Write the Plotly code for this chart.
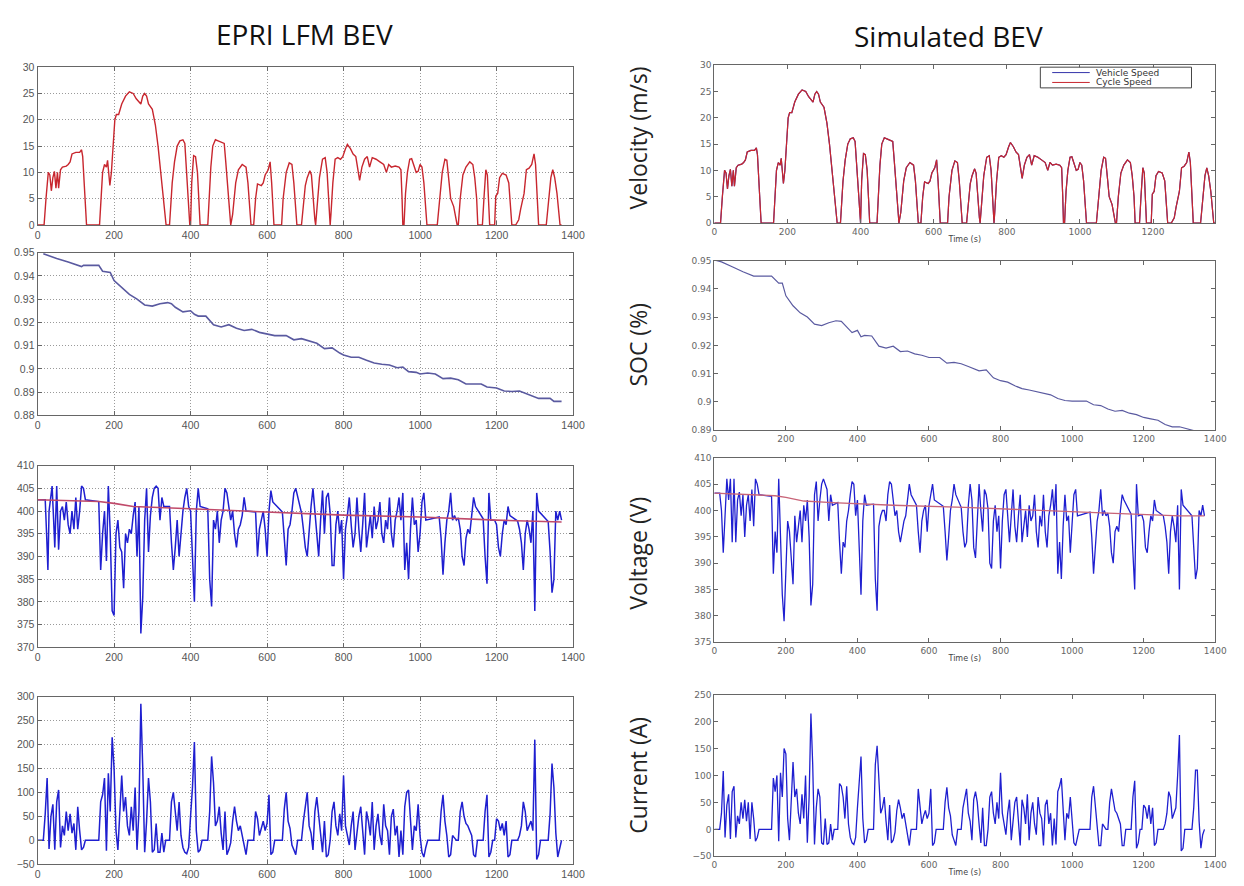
import plotly.graph_objects as go

# ---------------- data ----------------
speed_cycle = [(0,0),(17,0),(22,5),(25,7.5),(28,10),(32,9.5),(36,6.5),(40,9),(44,10.2),(48,7),(52,10),(55,7),
    (60,10.5),(65,11),(75,11.2),(80,11.5),(85,12),(90,13.5),(100,13.8),(110,13.8),(115,14.3),(118,13),(122,8),
    (126,3),(128,0),(162,0),(166,6),(170,10),(175,11.5),(180,11),(183,12.3),(186,10),(189,7.5),(193,10),(197,15),
    (202,20),(206,21),(212,21),(220,23),(230,24.5),(240,25.3),(250,25),(258,24),(265,23.5),(270,23),(275,24.5),
    (280,25),(285,24.5),(290,23),(300,22),(308,19),(315,15),(322,10),(328,5),(333,1),(336,0),(345,0),(347,3),
    (352,8),(358,12),(365,15),(372,16),(380,16.2),(385,15.5),(390,10),(395,4),(398,0),(400,0),(403,8),(408,13.2),
    (413,13),(418,10),(423,3),(425,0),(445,0),(448,5),(453,11),(458,15),(465,16.2),(472,16),(480,15.8),(488,15.5),
    (492,12),(498,6),(503,1),(505,0),(510,2),(518,8),(525,10.5),(535,11.5),(545,11),(550,8),(555,3),(558,0),
    (565,0),(570,5),(575,7.8),(585,7.5),(590,8),(595,9.5),(603,10.5),(608,12),(612,8),(616,2),(618,0),(638,0),
    (642,5),(650,10),(658,11.8),(665,11.5),(670,8),(675,3),(678,0),(690,0),(695,4),(700,7.5),(705,9),(712,10.3),
    (716,9.5),(720,5),(725,1),(727,0),(730,3),(737,9),(745,12.5),(752,12.8),(757,10),(762,3),(765,0),(767,2),
    (772,8),(778,12.5),(785,12.8),(792,12.5),(798,13),(805,14.5),(810,15.3),(818,14.5),(825,13.5),(832,13),
    (838,10),(842,8.5),(848,11),(855,12.5),(862,13),(868,11),(875,12.8),(885,12.5),(895,12),(905,11.5),(912,10),
    (918,11.5),(925,11),(935,11.2),(945,11),(950,10.5),(953,5),(955,0),(958,0),(962,6),(967,10),(973,12.5),
    (978,12.6),(985,11),(990,10),(995,10.2),(1000,11.5),(1005,11),(1010,8),(1015,3),(1018,0),(1045,0),(1050,4),
    (1058,10),(1065,12.5),(1070,12.3),(1076,8),(1080,5),(1088,3.5),(1094,1),(1097,0),(1100,0),(1105,5),(1112,9.5),
    (1120,11),(1130,12),(1138,11.5),(1143,9),(1148,5),(1151,0),(1163,0),(1167,5),(1172,10.5),(1176,9.5),(1180,3),
    (1182,0),(1195,0),(1198,5.5),(1203,6),(1208,9),(1215,9.8),(1225,9.5),(1232,8),(1237,3),(1240,0),(1250,0),
    (1258,1),(1263,3),(1268,4.5),(1272,6),(1278,10.5),(1285,10.8),(1292,11.5),(1298,13.5),(1302,11.5),(1306,5),
    (1310,0),(1330,0),(1336,5),(1342,9),(1347,10.5),(1352,9),(1358,6),(1363,2),(1366,0),(1370,0)]

soc_epri = [(15,0.9495),(30,0.9485),(50,0.9475),(80,0.946),(100,0.9447),(115,0.944),(120,0.9445),(160,0.9445),
    (170,0.942),(190,0.9415),(200,0.938),(220,0.935),(240,0.932),(260,0.930),(280,0.9275),(300,0.927),(320,0.928),
    (340,0.9285),(350,0.928),(360,0.9265),(380,0.9245),(400,0.925),(410,0.9235),(420,0.9227),(440,0.9227),
    (460,0.919),(480,0.918),(500,0.919),(520,0.9175),(540,0.9165),(560,0.917),(580,0.9157),(600,0.915),
    (620,0.9143),(650,0.9143),(670,0.9125),(690,0.913),(710,0.912),(730,0.911),(750,0.9087),(770,0.909),
    (790,0.9068),(800,0.906),(820,0.905),(840,0.905),(860,0.9037),(880,0.9025),(900,0.902),(920,0.9017),
    (940,0.9005),(955,0.9008),(970,0.8988),(990,0.8985),(1000,0.8978),(1020,0.8982),(1040,0.8978),(1060,0.8958),
    (1080,0.896),(1100,0.8953),(1120,0.8935),(1160,0.8935),(1175,0.8922),(1200,0.8918),(1220,0.8905),
    (1240,0.8903),(1260,0.8905),(1280,0.8893),(1300,0.8882),(1310,0.8873),(1340,0.8873),(1350,0.886),(1370,0.886)]

soc_sim = [(0,0.9502),(20,0.9495),(50,0.9478),(80,0.946),(110,0.9445),(160,0.9445),(180,0.942),(190,0.942),
    (200,0.9375),(220,0.934),(240,0.9315),(260,0.930),(280,0.9275),(300,0.927),(320,0.928),(340,0.9287),
    (355,0.9285),(370,0.9265),(385,0.9245),(400,0.9253),(410,0.923),(420,0.9235),(440,0.9233),(460,0.9197),
    (480,0.919),(500,0.9197),(520,0.9178),(540,0.918),(560,0.917),(580,0.9165),(600,0.9157),(630,0.9157),
    (650,0.9137),(670,0.914),(690,0.9135),(710,0.9125),(740,0.911),(760,0.9113),(780,0.9085),(800,0.9075),
    (820,0.907),(840,0.9057),(860,0.9047),(880,0.9042),(900,0.9037),(920,0.9032),(940,0.9025),(960,0.9012),
    (980,0.9005),(1000,0.9003),(1040,0.9003),(1060,0.899),(1080,0.8987),(1100,0.8975),(1120,0.8967),
    (1140,0.897),(1160,0.896),(1180,0.8955),(1200,0.8945),(1220,0.894),(1240,0.8935),(1260,0.892),
    (1280,0.8912),(1300,0.8912),(1320,0.8905),(1345,0.8897),(1360,0.8895)]

volt_epri = [(0,402.5),(20,402.5),(24,394),(27,387),(30,400),(34,403),(38,405.5),(42,398),(45,392),(50,405.5),
    (55,391.5),(60,400),(65,401),(70,398),(75,402),(80,397),(85,395),(90,400),(95,396),(100,403),(105,396),
    (110,400),(115,405.5),(120,405),(125,402.5),(160,402.1),(165,387),(170,395),(175,400),(180,389),(185,405.5),
    (190,395),(195,378),(200,377),(205,395),(210,398),(215,392),(220,391),(225,383),(230,395),(235,393),(240,396),
    (245,395),(250,399),(255,402),(260,390),(265,401),(270,373),(275,381),(280,398),(285,405),(290,391),(295,399),
    (300,403),(305,405),(310,405.5),(315,405),(320,398),(325,403),(330,401),(345,401),(350,393),(355,387),
    (360,392),(365,398),(370,390),(375,396),(380,400),(385,403),(390,405),(395,401),(400,400),(405,390),(410,380),
    (415,400),(420,405),(425,401),(445,400.5),(450,385),(455,379),(460,398),(465,396),(470,400),(475,393),
    (480,398),(485,400),(490,405),(495,404),(500,401),(505,398),(510,400),(515,395),(520,392),(525,396),(530,397),
    (535,399),(540,403),(545,400),(570,399.8),(575,390),(580,396),(585,398),(590,400),(595,396),(600,390),
    (605,400),(610,404.5),(615,402),(640,399.8),(645,394),(650,388),(655,396),(660,397),(665,400),(670,404),
    (675,405),(690,399.6),(695,396),(700,392),(705,390),(710,396),(715,401),(720,405),(725,400),(730,394),
    (735,390),(740,398),(745,404.5),(750,395),(755,403),(760,404),(765,399.5),(770,388),(775,388),(780,397),
    (785,400),(790,395),(795,398),(800,385),(805,396),(810,399),(815,403),(820,397),(825,392),(830,395),(835,403),
    (840,396),(845,391),(850,397),(855,404),(860,392),(865,396),(870,399),(875,394),(880,401),(885,396),(890,398),
    (895,402),(900,395),(905,393),(910,398),(915,396),(920,403),(925,395),(930,392),(935,398),(940,400),(945,403),
    (950,398),(955,404),(960,387),(965,393),(970,385),(975,396),(980,403),(985,397),(990,398),(995,391),
    (1000,395),(1005,402),(1010,404),(1015,398),(1050,398.7),(1055,394),(1060,386),(1065,393),(1070,398),
    (1075,400),(1080,404),(1085,398),(1090,399),(1095,398),(1100,398.5),(1105,396),(1110,390),(1115,388),
    (1120,394),(1125,396),(1130,395),(1135,399),(1140,403),(1145,401),(1165,398.3),(1170,390),(1175,384),
    (1180,404),(1185,398),(1195,398),(1200,397),(1205,392),(1210,390),(1215,395),(1220,398),(1225,397),
    (1230,401),(1235,399),(1255,397.8),(1260,396),(1265,393),(1270,387),(1275,395),(1280,398),(1285,396),
    (1290,393),(1295,400),(1300,378),(1305,404),(1310,400),(1335,397.7),(1340,391),(1345,382),(1350,385),
    (1355,400),(1360,398),(1365,400),(1370,398)]

ocv_epri = [(0,402.5),(160,402.1),(200,401.7),(250,401.0),(400,400.5),(600,399.8),(800,399.1),(1000,398.7),
    (1200,398.0),(1370,397.6)]

volt_sim = [(0,403.3),(15,403.3),(20,400),(25,392),(30,399),(35,406),(40,402),(45,406),(50,394),(55,406),
    (60,394),(65,402),(70,403.5),(75,399),(80,403),(85,395),(90,401),(95,403),(100,398),(105,404),(110,397),
    (115,406),(120,405),(125,403),(160,402.7),(165,388),(170,396),(175,392),(180,406),(185,393),(190,384),
    (195,379),(200,391),(205,398),(210,396),(215,390),(220,386),(225,399),(230,394),(235,397),(240,400),(245,394),
    (250,401),(255,398),(260,402),(265,395),(270,382),(275,386),(280,403),(285,405.5),(290,398),(295,402),
    (300,405),(305,406),(310,405),(315,404),(320,398),(325,403),(330,401),(345,401.5),(350,394),(355,388),
    (360,394),(365,393),(370,398),(375,400),(380,403),(385,405.5),(390,405),(395,399),(400,402),(405,391),
    (410,384),(415,398),(420,403),(425,401),(445,401.2),(450,387),(455,381),(460,397),(465,399),(470,400),
    (475,400),(480,398),(485,403),(490,405.5),(495,405),(500,402),(505,399),(510,400),(515,396),(520,394),
    (525,396),(530,398),(535,399),(540,402),(545,405),(550,403),(565,401),(570,396),(575,392),(580,398),
    (585,400),(590,401),(595,396),(600,401),(605,403),(610,405),(615,402),(640,400.8),(645,396),(650,390.5),
    (655,395),(660,400),(665,402),(670,405),(675,403),(690,400.6),(695,396),(700,393),(705,394),(710,401),
    (715,405),(720,402),(725,393),(730,391),(735,398),(740,405),(745,400),(750,396),(755,404),(760,403),
    (765,400.3),(770,390),(775,389),(780,398),(785,401),(790,396),(795,399),(800,389),(805,398),(810,403),
    (815,404),(820,398),(825,394),(830,399),(835,404),(840,397),(845,394),(850,399),(855,403),(860,394),
    (865,397),(870,400),(875,395),(880,401),(885,398),(890,399),(895,403),(900,396),(905,393),(910,399),
    (915,397),(920,403),(925,396),(930,393),(935,399),(940,401),(945,404),(950,399),(955,405),(960,388),
    (965,394),(970,387),(975,397),(980,403),(985,398),(990,399),(995,392),(1000,397),(1005,403),(1010,404),
    (1015,399),(1050,399.7),(1055,395),(1060,388),(1065,394),(1070,398),(1075,400),(1080,404),(1085,399),
    (1090,400),(1095,399),(1100,399.5),(1105,397),(1110,392),(1115,390),(1120,396),(1125,397),(1130,396),
    (1135,400),(1140,403),(1145,402),(1165,399.3),(1170,392),(1175,385),(1180,405),(1185,399),(1195,399.2),
    (1200,398),(1205,393),(1210,392),(1215,396),(1220,399),(1225,398),(1230,402),(1235,400),(1255,399),
    (1260,397),(1265,394),(1270,388),(1275,396),(1280,399),(1285,397),(1290,394),(1295,401),(1300,385),
    (1305,404),(1310,401),(1335,399),(1340,393),(1345,387),(1350,389),(1355,400),(1360,399),(1365,401),(1370,399)]

ocv_sim = [(0,403.3),(170,402.8),(200,402.5),(250,401.8),(330,401.5),(500,401.0),(700,400.6),(900,400.0),
    (1100,399.5),(1300,399.0),(1370,399.0)]

curr_epri = [(0,0),(15,0),(20,55),(25,130),(30,-18),(35,50),(40,75),(45,-20),(50,80),(55,105),(60,-15),(65,30),
    (70,10),(75,60),(80,20),(85,55),(90,15),(95,35),(100,-20),(105,70),(110,20),(115,-20),(120,-15),(125,0),
    (160,0),(165,80),(170,95),(175,130),(180,-22),(185,140),(190,60),(195,215),(200,150),(205,20),(210,-20),
    (215,75),(220,135),(225,60),(230,90),(235,30),(240,10),(245,70),(250,20),(255,110),(260,-20),(265,60),
    (270,285),(275,150),(280,-25),(285,40),(290,130),(295,80),(300,-25),(305,-20),(310,35),(315,-25),(320,-25),
    (325,15),(330,-25),(335,0),(345,0),(350,80),(355,100),(360,60),(365,20),(370,80),(375,10),(380,-15),
    (385,-25),(390,-28),(395,-15),(400,50),(405,110),(410,205),(415,20),(420,-25),(425,-20),(430,0),(445,0),
    (450,60),(455,175),(460,120),(465,30),(470,40),(475,70),(480,15),(485,-20),(490,60),(495,-30),(500,-20),
    (505,-5),(510,40),(515,70),(520,40),(525,20),(530,30),(535,10),(540,-15),(545,-30),(550,0),(565,0),
    (570,60),(575,45),(580,10),(585,25),(590,40),(595,20),(600,35),(605,95),(610,-30),(615,-25),(620,0),
    (640,0),(645,65),(650,100),(655,40),(660,25),(665,-10),(670,-20),(675,-30),(680,0),(690,0),(695,40),
    (700,75),(705,100),(710,30),(715,15),(720,-20),(725,60),(730,90),(735,50),(740,10),(745,-25),(750,40),
    (755,-35),(760,-30),(765,0),(770,60),(775,80),(780,30),(785,10),(790,55),(795,20),(800,135),(805,30),
    (810,10),(815,-10),(820,30),(825,60),(830,-20),(835,15),(840,50),(845,70),(850,10),(855,-30),(860,60),
    (865,40),(870,10),(875,80),(880,-20),(885,30),(890,55),(895,10),(900,-10),(905,75),(910,30),(915,20),
    (920,-30),(925,50),(930,65),(935,10),(940,30),(945,-35),(950,20),(955,-30),(960,70),(965,100),(970,105),
    (975,40),(980,-20),(985,30),(990,20),(995,75),(1000,10),(1005,-25),(1010,-35),(1015,-15),(1020,0),
    (1050,0),(1055,60),(1060,95),(1065,40),(1070,10),(1075,-35),(1080,-30),(1085,10),(1090,5),(1095,0),
    (1100,0),(1105,60),(1110,80),(1115,50),(1120,35),(1125,30),(1130,20),(1135,10),(1140,-30),(1145,-35),
    (1150,0),(1165,0),(1170,60),(1175,95),(1180,-35),(1185,-25),(1190,0),(1195,0),(1200,45),(1205,40),
    (1210,20),(1215,35),(1220,10),(1225,40),(1230,-35),(1235,-30),(1240,0),(1255,0),(1260,10),(1265,30),
    (1270,80),(1275,60),(1280,20),(1285,30),(1290,40),(1295,20),(1300,210),(1305,-40),(1310,-30),(1315,0),
    (1335,0),(1340,55),(1345,160),(1350,110),(1355,15),(1360,-35),(1365,-15),(1370,0)]

curr_sim = [(0,0),(15,0),(20,30),(25,108),(30,-15),(35,45),(40,65),(45,-18),(50,70),(55,80),(60,-15),(65,25),
    (70,10),(75,50),(80,20),(85,55),(90,15),(95,50),(100,-18),(105,50),(110,20),(115,-22),(120,-15),(125,0),
    (160,0),(165,95),(170,70),(175,100),(180,-22),(185,105),(190,60),(195,150),(200,140),(205,20),(210,-20),
    (215,70),(220,125),(225,60),(230,75),(235,30),(240,10),(245,65),(250,20),(255,100),(260,-25),(265,60),
    (270,215),(275,120),(280,-28),(285,40),(290,75),(295,60),(300,-25),(305,-28),(310,20),(315,-28),(320,-25),
    (325,10),(330,-20),(335,0),(345,0),(350,85),(355,80),(360,60),(365,20),(370,80),(375,10),(380,-15),
    (385,-25),(390,-28),(395,-15),(400,40),(405,100),(410,135),(415,20),(420,-25),(425,-20),(430,0),(445,0),
    (450,120),(455,155),(460,100),(465,30),(470,40),(475,60),(480,15),(485,-20),(490,45),(495,-25),(500,-20),
    (505,-5),(510,35),(515,55),(520,40),(525,20),(530,30),(535,10),(540,-15),(545,-30),(550,0),(565,0),
    (570,75),(575,40),(580,10),(585,25),(590,35),(595,20),(600,30),(605,75),(610,-30),(615,-25),(620,0),
    (640,0),(645,50),(650,78),(655,40),(660,25),(665,-10),(670,-20),(675,-30),(680,0),(690,0),(695,40),
    (700,60),(705,75),(710,30),(715,15),(720,-20),(725,55),(730,70),(735,50),(740,10),(745,-25),(750,40),
    (755,-30),(760,-30),(765,0),(770,60),(775,70),(780,30),(785,10),(790,50),(795,20),(800,105),(805,30),
    (810,10),(815,-10),(820,30),(825,55),(830,-20),(835,15),(840,50),(845,60),(850,10),(855,-30),(860,55),
    (865,40),(870,10),(875,65),(880,-20),(885,30),(890,50),(895,10),(900,-10),(905,60),(910,30),(915,20),
    (920,-30),(925,45),(930,55),(935,10),(940,30),(945,-30),(950,20),(955,-28),(960,70),(965,80),(970,95),
    (975,40),(980,-20),(985,30),(990,20),(995,60),(1000,10),(1005,-25),(1010,-30),(1015,-15),(1020,0),
    (1050,0),(1055,60),(1060,80),(1065,40),(1070,10),(1075,-30),(1080,-30),(1085,10),(1090,5),(1095,0),
    (1100,0),(1105,50),(1110,75),(1115,50),(1120,35),(1125,30),(1130,20),(1135,10),(1140,-30),(1145,-30),
    (1150,0),(1165,0),(1170,60),(1175,90),(1180,-35),(1185,-25),(1190,0),(1195,0),(1200,45),(1205,40),
    (1210,20),(1215,45),(1220,10),(1225,40),(1230,-30),(1235,-25),(1240,0),(1255,0),(1260,10),(1265,30),
    (1270,70),(1275,60),(1280,20),(1285,30),(1290,40),(1295,100),(1300,175),(1305,-40),(1310,-35),(1315,0),
    (1335,0),(1340,40),(1345,110),(1350,110),(1355,15),(1360,-35),(1365,-10),(1370,0)]

legend_names = ["Vehicle Speed", "Cycle Speed"]

def split(p):
    return [a for a, _ in p], [b for _, b in p]

# ---------------- figure ----------------
W, H = 1244, 886
fig = go.Figure()

def px_x(a, b):
    return [a / W, b / W]

def px_y(top, bottom):
    return [1 - bottom / H, 1 - top / H]

LX = px_x(35, 577)
RX = px_x(720, 1227)
panels = {
    1: (LX, px_y(62, 222), [0, 1400], [0, 30], [0, 5, 10, 15, 20, 25, 30], None, True),
    2: (LX, px_y(250, 415), [0, 1400], [0.88, 0.95], [0.88, 0.89, 0.90, 0.91, 0.92, 0.93, 0.94, 0.95],
        ["0.88", "0.89", "0.9", "0.91", "0.92", "0.93", "0.94", "0.95"], True),
    3: (LX, px_y(466, 650), [0, 1400], [370, 410], [370, 375, 380, 385, 390, 395, 400, 405, 410], None, True),
    4: (LX, px_y(700, 870), [0, 1400], [-50, 300], [-50, 0, 50, 100, 150, 200, 250, 300], None, True),
    5: (RX, px_y(60, 220), [0, 1370], [0, 30], [0, 5, 10, 15, 20, 25, 30], None, False),
    6: (RX, px_y(258, 430), [0, 1400], [0.89, 0.95], [0.89, 0.90, 0.91, 0.92, 0.93, 0.94, 0.95],
        ["0.89", "0.9", "0.91", "0.92", "0.93", "0.94", "0.95"], False),
    7: (RX, px_y(458, 645), [0, 1400], [375, 410], [375, 380, 385, 390, 395, 400, 405, 410], None, False),
    8: (RX, px_y(698, 862), [0, 1400], [-50, 250], [-50, 0, 50, 100, 150, 200, 250], None, False),
}

layout = {}
for i, (xd, yd, xr, yr, ytv, ytt, grid) in panels.items():
    right = i >= 5
    tickfont = dict(family="DejaVu Sans", size=9, color="#666") if right else dict(family="Liberation Sans", size=10.5, color="#555")
    common = dict(showline=True, linecolor="#666", linewidth=1, mirror="allticks", ticks="inside",
                  ticklen=4, tickcolor="#666", tickfont=tickfont, zeroline=False,
                  showgrid=grid, gridcolor="#9a9a9a", griddash="1px,2px", gridwidth=1)
    xt = [0, 200, 400, 600, 800, 1000, 1200] if i == 5 else [0, 200, 400, 600, 800, 1000, 1200, 1400]
    xa = dict(domain=xd, range=xr, anchor=f"y{i}", tickvals=xt, **common)
    if i in (5, 7, 8):
        xa["title"] = dict(text="Time (s)", font=dict(family="DejaVu Sans", size=8, color="#444"), standoff=0)
    ya = dict(domain=yd, range=yr, anchor=f"x{i}", tickvals=ytv, **common)
    if ytt:
        ya["ticktext"] = ytt
    layout["xaxis" + ("" if i == 1 else str(i))] = xa
    layout["yaxis" + ("" if i == 1 else str(i))] = ya

fig.update_layout(**layout)

def ax(i):
    return ("x" if i == 1 else f"x{i}"), ("y" if i == 1 else f"y{i}")

RED = "#c8262e"
BLUE = "#1f1fd0"
SOCC = "#5a5aa0"
VEH = "#3333aa"

t, v = split(speed_cycle)
xa_, ya_ = ax(1)
fig.add_trace(go.Scatter(x=t, y=v, mode="lines", line=dict(color=RED, width=1.4), xaxis=xa_, yaxis=ya_, showlegend=False))
t, v = split(soc_epri)
xa_, ya_ = ax(2)
fig.add_trace(go.Scatter(x=t, y=v, mode="lines", line=dict(color=SOCC, width=1.6), xaxis=xa_, yaxis=ya_, showlegend=False))
t, v = split(volt_epri)
xa_, ya_ = ax(3)
fig.add_trace(go.Scatter(x=t, y=v, mode="lines", line=dict(color=BLUE, width=1.5), xaxis=xa_, yaxis=ya_, showlegend=False))
t, v = split(ocv_epri)
fig.add_trace(go.Scatter(x=t, y=v, mode="lines", line=dict(color="#c04a6a", width=1.6), xaxis=xa_, yaxis=ya_, showlegend=False))
t, v = split(curr_epri)
xa_, ya_ = ax(4)
fig.add_trace(go.Scatter(x=t, y=v, mode="lines", line=dict(color=BLUE, width=1.5), xaxis=xa_, yaxis=ya_, showlegend=False))

# simulated
t, v = split(speed_cycle)
xa_, ya_ = ax(5)
fig.add_trace(go.Scatter(x=t, y=v, mode="lines", name=legend_names[0], line=dict(color=VEH, width=1.2), xaxis=xa_, yaxis=ya_, showlegend=False))
fig.add_trace(go.Scatter(x=t, y=v, mode="lines", name=legend_names[1], line=dict(color=RED, width=1.2), xaxis=xa_, yaxis=ya_, showlegend=False))
t, v = split(soc_sim)
xa_, ya_ = ax(6)
fig.add_trace(go.Scatter(x=t, y=v, mode="lines", line=dict(color=SOCC, width=1.2), xaxis=xa_, yaxis=ya_, showlegend=False))
t, v = split(volt_sim)
xa_, ya_ = ax(7)
fig.add_trace(go.Scatter(x=t, y=v, mode="lines", line=dict(color=BLUE, width=1.3), xaxis=xa_, yaxis=ya_, showlegend=False))
t, v = split(ocv_sim)
fig.add_trace(go.Scatter(x=t, y=v, mode="lines", line=dict(color="#c86478", width=1.3), xaxis=xa_, yaxis=ya_, showlegend=False))
t, v = split(curr_sim)
xa_, ya_ = ax(8)
fig.add_trace(go.Scatter(x=t, y=v, mode="lines", line=dict(color=BLUE, width=1.3), xaxis=xa_, yaxis=ya_, showlegend=False))

ann = [
    dict(text="EPRI LFM BEV", x=305 / W, y=1 - 28 / H, xref="paper", yref="paper", showarrow=False,
         font=dict(family="Open Sans", size=28, color="#111"), xanchor="center", yanchor="middle"),
    dict(text="Simulated BEV", x=957 / W, y=1 - 30 / H, xref="paper", yref="paper", showarrow=False,
         font=dict(family="Open Sans", size=28, color="#111"), xanchor="center", yanchor="middle"),
]
ylabels = [("Velocity (m/s)", 134), ("SOC (%)", 343), ("Voltage (V)", 555), ("Current (A)", 780)]
for txt, yc in ylabels:
    ann.append(dict(text=txt, x=643 / W, y=1 - yc / H, xref="paper", yref="paper", showarrow=False, textangle=-90,
                    font=dict(family="Open Sans", size=23, color="#222"), xanchor="center", yanchor="middle"))

# hand-made compact legend (MATLAB style) in the top-right panel
LB = (1050, 62, 1203, 83)
shapes = [dict(type="rect", xref="paper", yref="paper", x0=LB[0] / W, x1=LB[2] / W, y0=1 - LB[3] / H, y1=1 - LB[1] / H,
               line=dict(color="#444", width=1), fillcolor="white", layer="above")]
for k, (col, yy) in enumerate([(VEH, 67.5), (RED, 77.5)]):
    shapes.append(dict(type="line", xref="paper", yref="paper", x0=1062 / W, x1=1100 / W, y0=1 - yy / H, y1=1 - yy / H,
                       line=dict(color=col, width=1), layer="above"))
    ann.append(dict(text=legend_names[k], x=1104 / W, y=1 - yy / H, xref="paper", yref="paper", showarrow=False,
                    xanchor="left", yanchor="middle", font=dict(family="DejaVu Sans", size=9, color="#333")))

fig.update_layout(
    width=W, height=H, margin=dict(l=0, r=0, t=0, b=0),
    paper_bgcolor="white", plot_bgcolor="white",
    annotations=ann, shapes=shapes, showlegend=False,
)

fig.write_html("out.html")
